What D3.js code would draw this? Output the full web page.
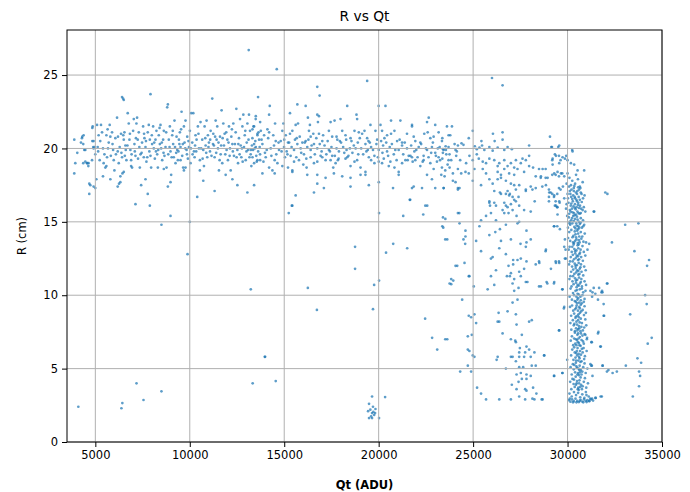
<!DOCTYPE html>
<html>
<head>
<meta charset="utf-8">
<title>R vs Qt</title>
<script src="https://d3js.org/d3.v7.min.js"></script>
<style>
  * { margin: 0; padding: 0; }
  body { background: #fff; width: 690px; height: 492px; overflow: hidden; font-family: "DejaVu Sans", sans-serif; }
  .tick text { font-family: "DejaVu Sans", sans-serif; font-size: 11.5px; fill: #000; }
  .tick line { stroke: #000; }
</style>
</head>
<body>
<div id="chart"></div>
<script>
// tick values
const xTicks = [5000, 10000, 15000, 20000, 25000, 30000, 35000];
const yTicks = [0, 5, 10, 15, 20, 25];

// [Qt (ADU), R (cm)], grouped by area
const leftEdgePoints = [
  [3885,20.6],[4045,19.7],[3940,19.0],[3885,18.3],[4310,20.8],[4360,20.3],[4470,19.9],[4360,19.0],[4575,19.0],
  [4680,17.6],[4680,16.9],[4840,21.4],[4840,20.5],[4890,20.1],[5000,19.6],[4630,18.8],[5000,17.3],
  [4240,20.4],[4290,20.7],[4380,20.9],[4415,19.9],[4470,19.1],[4560,19.0],[4645,19.0],[4735,17.5],
  [4825,19.2],[4910,20.0],[4965,20.1],[4860,21.5],[4910,20.5]
];

const bandPointsA = [
  [5090,21.6],[5175,20.9],[5125,20.1],[5230,19.2],[5300,21.6],[5355,21.1],[5405,20.0],[5440,19.0],[5530,18.7],
  [5585,20.9],[5620,19.4],[5670,20.0],[5710,20.4],[5760,21.6],[4910,17.4],[5055,17.9],[5405,18.1],[5585,18.8],[5795,17.9],
  [5795,20.8],[5885,21.1],[5940,19.9],[5975,19.2],[6010,18.5],[6060,20.7],[6150,22.1],[6185,19.8],[6240,19.0],
  [6290,20.1],[6325,18.1],[6360,21.0],[6415,23.5],[6470,23.4],[6505,23.3],[6415,19.4],[6505,20.6],[6540,21.1],
  [6590,20.2],[6645,19.2],[6185,17.4],[6255,17.6],[6325,17.7],[6435,18.3],[6505,18.4],[6610,19.9],
  [6715,22.4],[6770,21.7],[6805,20.6],[6855,19.9],[6895,19.2],[6945,18.7],[7000,21.2],[7035,22.0],[7070,20.3],
  [7125,19.5],[7175,21.7],[7210,22.1],[7245,20.6],[7300,21.1],[7355,18.7],[7390,19.6],[7425,17.5],[7475,20.4],
  [7530,21.5],[7565,19.4],[7125,16.2],[6895,18.8],[7655,17.9],
  [7600,20.7],[7655,20.1],[7705,19.1],[7775,21.1],[7830,21.6],[7885,20.6],[7920,23.7],[7920,19.5],[7955,18.7],
  [8005,20.3],[8060,21.5],[8095,20.0],[8150,19.3],[8185,20.6],[8235,21.2],[8275,19.6],[8310,18.7],[8360,20.9],
  [8415,20.3],[7885,16.1],[7775,16.9],
  [8450,21.6],[8485,20.0],[8540,19.2],[8590,20.6],[8625,21.2],[8660,19.5],[8715,20.1],[8770,18.7],[8805,22.8],
  [8840,23.0],[8890,20.6],[8945,21.5],[8980,19.8],[9015,18.2],[9070,20.9],[9120,20.3],[9155,19.4],[9190,21.9],
  [9245,19.0],[9300,20.8],[8980,17.7],[8840,17.4],[8625,18.6],[9335,19.9],
  [9370,19.2],[9425,20.6],[9475,21.1],[9510,20.1],[9565,22.5],[9600,19.5],[9650,18.7],[9690,21.5],[9725,20.4],
  [9775,21.9],[9830,19.9],[9865,20.8],[9900,19.3],[9955,20.1],[10005,21.2],[10040,19.0],[10075,22.4],[10130,20.4],
  [10185,22.4],[10220,19.8],[9775,18.7],[9690,18.5],[9510,19.2],
  [10255,19.4],[10305,20.9],[10360,20.6],[10395,16.7],[10430,21.5],[10485,20.0],[10535,19.2],[10570,21.8],
  [10660,20.6],[10715,19.9],[10750,18.8],[10785,21.5],[10840,20.2],[10890,21.9],[10925,19.4],[10960,20.9],
  [11015,20.4],[11070,19.8],[11105,21.2],[10715,17.8],[10535,18.5],
  [11190,23.4],[11245,21.0],[11280,20.2],[11315,19.4],[11370,21.9],[11420,20.6],[11455,21.5],[11490,20.0],
  [11545,18.5],[11600,20.8],[11635,19.6],[11685,22.6],[11720,19.0],[11775,21.7],[11810,20.2],[11845,21.0],
  [11900,18.2],[11950,19.9],[11990,20.6],[11315,17.1],
  [12020,19.2],[12075,21.5],[12130,20.0],[12165,18.5],[12200,20.8],[12255,20.3],[12305,21.7],[12340,19.5],
  [12430,21.1],[12465,22.7],[12520,19.9],[12555,19.0],[12605,20.7],[12660,22.0],[12695,20.2],[12730,19.4],
  [12785,21.5],[12835,22.3],[12870,20.1],[12255,17.9],[12520,17.5],
  [12910,20.9],[12960,19.2],[13015,20.4],[13050,21.7],[13085,19.9],[13135,22.3],[13190,21.2],[13225,19.6],
  [13260,18.8],[13315,20.7],[13370,21.5],[13405,20.3],[13440,20.0],[13490,22.0],[13545,19.1],[13580,20.9],
  [13615,23.5],[13670,20.6],[13720,19.6],[13050,17.0],[13405,17.5],
  [5150,19.8],[5260,20.5],[5480,19.6],[5650,21.3],[5820,19.5],[5910,20.3],[6090,19.6],[6200,20.8],[6380,19.7],
  [6480,20.9],[6560,19.5],[6700,20.2],[6830,21.0],[6920,19.6],[7090,19.8],[7150,20.7],[7260,19.3],[7330,20.1],
  [7450,19.7],[7580,21.0],[7680,20.5],[7750,19.4],[7860,19.8],[7990,20.9],[8120,20.4],[8210,19.8],[8330,19.9],
  [8400,21.4],[8520,20.4],[8610,19.7],[8750,21.1],[8860,19.6],[8930,20.1],[9040,19.4],[9100,21.2],[9220,20.1],
  [9280,19.7],[9400,19.8],[9450,20.3],[9540,21.3],[9630,20.3],[9760,20.0],[9850,19.6],[9930,20.5],[10060,20.0],
  [10150,19.6],[10280,20.2],[10340,19.8],[10460,21.0],[10600,20.0],[10680,19.3],[10820,20.7],[10870,19.7],
  [10990,20.1],[11080,20.6],[11150,19.5],[11230,20.3],[11340,20.8],[11400,19.7],[11520,20.4],[11580,19.2],
  [11660,20.2],[11740,20.7],[11880,19.6],[11930,21.1],[12050,20.4],[12110,19.5],[12230,21.3],[12280,19.8],
  [12390,20.3],[12480,19.4],[12570,20.3],[12640,19.6],[12760,20.0],[12800,19.1],[12940,21.2],[13000,19.8],
  [13110,20.6],[13160,19.4],[13290,20.2],[13350,19.9],[13470,20.5],[13520,19.5],[13640,21.1],[13700,20.1]
];

const bandPointsB = [
  [14605,25.4],[19390,24.6],[16750,24.2],[16875,23.6],[14235,22.9],[15695,23.0],[16135,22.9],[18335,22.9],[20360,22.9],
  [13495,22.2],[14200,22.3],[13725,21.8],[14515,21.7],[14955,21.7],[15305,22.4],[15605,21.6],[15730,21.7],
  [16255,22.1],[16360,21.6],[16750,22.3],[16840,22.2],[16785,21.8],[17455,21.8],[17665,21.9],[17980,22.0],
  [18825,22.3],[18860,22.0],[19565,21.6],[20095,21.6],[20655,21.9],[21150,21.9],[21765,21.6],[22560,21.8],
  [22650,22.1],[22995,21.6],
  [13320,21.3],[13405,21.5],[13580,21.0],[13760,21.2],[13935,20.9],[14110,21.3],[14200,21.1],[14550,20.5],
  [14815,20.5],[14900,21.2],[15080,20.9],[15200,20.4],[15305,21.0],[15430,21.2],[15660,20.7],[15960,20.4],
  [16135,20.5],[16310,21.2],[16400,20.8],[16540,21.0],[16840,21.0],[17015,20.5],[17365,21.2],[17540,20.8],
  [17770,20.8],[17945,20.5],[18070,21.2],[18245,20.9],[18510,20.7],[18720,21.2],[18950,21.1],[19125,21.0],
  [19250,21.2],[19390,20.7],[19530,20.4],[19830,21.2],[19920,20.6],[20180,21.2],[20305,20.7],[20445,20.9],
  [20655,21.0],[20835,21.2],[20975,20.5],[21240,20.4],[21500,21.0],[21765,21.5],[21855,20.8],[21940,20.5],
  [22205,20.4],[22415,21.0],[22595,21.1],[22735,20.7],[22910,20.8],[23175,21.1],[23350,20.5],[23615,21.5],[23790,20.9],
  [13230,19.9],[13495,20.1],[13620,19.8],[13845,20.3],[14075,19.9],[14285,20.0],[14460,20.2],[14725,19.9],
  [14990,20.1],[15130,19.8],[15340,19.5],[15520,19.9],[15695,20.3],[15870,20.0],[16045,19.6],[16220,20.1],
  [16400,19.9],[16575,20.3],[16750,20.0],[16925,19.5],[17135,20.2],[17365,19.9],[17540,19.5],[17770,20.0],
  [17895,19.8],[18120,20.1],[18300,19.9],[18475,20.0],[18685,20.2],[18895,20.4],[19075,20.0],[19300,20.3],
  [19425,19.9],[19600,20.1],[19775,19.5],[20005,19.9],[20235,20.2],[20445,19.8],[20585,20.1],[20800,19.6],
  [21060,19.9],[21240,20.2],[21500,20.0],[21680,19.5],[21890,19.8],[22120,20.1],[22380,19.5],[22560,19.9],
  [22820,20.1],[22995,19.7],[23175,19.4],[23440,19.9],[23700,20.1],
  [13320,19.4],[13405,19.0],[13580,19.2],[13725,19.2],[13900,19.1],[14020,19.4],[14200,18.7],[14375,18.5],
  [14495,19.2],[14640,19.0],[14900,18.8],[15040,19.4],[15200,18.7],[15430,18.5],[15520,19.1],[15780,19.2],
  [16010,18.9],[16185,18.7],[16400,19.4],[16575,19.0],[16750,19.1],[17015,19.4],[17190,19.2],[17455,19.2],
  [17595,18.7],[17720,19.0],[17840,19.2],[18245,19.3],[18335,19.4],[18510,18.8],[18720,19.1],[18860,19.2],
  [19040,18.7],[19300,18.4],[19480,19.4],[19600,19.2],[19775,19.0],[20005,19.1],[20180,19.0],[20270,19.3],
  [20535,18.8],[20620,19.1],[20835,18.7],[21060,18.4],[21240,19.0],[21415,19.2],[21535,19.2],[21765,19.4],
  [21940,19.2],[22205,18.8],[22380,19.2],[22560,18.2],[22735,19.0],[22910,18.6],[23085,19.1],[23350,18.7],
  [23525,18.5],[23700,19.2],
  [13845,18.3],[14495,18.3],[15430,18.4],[16220,18.2],[16750,18.2],[17190,18.0],[17630,18.3],[18070,18.1],
  [18510,18.0],[19040,18.2],[19300,18.2],[20005,17.7],[19480,17.5],[18510,17.4],[17100,17.3],[16750,17.6],
  [16575,17.0],[15605,16.8],[15430,16.1],[20760,17.3],[21765,17.3],[21855,17.4],[22295,17.3],[21645,16.5],
  [22470,16.1],[22995,17.3],[23440,17.3],[22820,17.9],[21060,18.2],
  [13800,20.6],[13980,19.7],[14150,20.7],[14320,19.5],[14420,20.9],[14580,19.6],[14700,20.4],[14860,19.8],
  [15000,20.6],[15170,19.6],[15260,20.4],[15390,20.1],[15570,20.6],[15640,19.4],[15820,20.8],[15900,19.7],
  [16090,20.4],[16170,19.3],[16280,20.6],[16450,20.2],[16620,19.6],[16700,20.7],[16880,20.3],[16980,19.8],
  [17060,20.9],[17230,19.6],[17300,20.5],[17420,19.8],[17500,20.1],[17680,19.5],[17810,20.6],[17880,19.3],
  [18010,20.4],[18180,19.7],[18280,20.6],[18400,19.5],[18560,20.5],[18610,19.7],[18780,20.0],[18920,19.6],
  [19000,20.7],[19180,19.6],[19350,19.8],[19460,20.5],[19700,19.9],[19880,20.3],[19960,19.4],[20130,20.5],
  [20200,19.7],[20400,20.4],[20500,19.5],[20700,20.3],[20880,19.9],[20950,19.2],[21110,20.6],[21300,19.6],
  [21380,20.4],[21590,19.5],[21720,20.2],[21800,19.1],[21990,19.9],[22060,19.4],[22250,20.3],[22330,19.1],
  [22500,20.0],[22640,19.4],[22780,19.7],[22870,20.4],[23030,19.5],[23130,20.0],[23250,19.2],[23400,19.7],
  [23560,19.9],[23650,18.9],[23750,19.6]
];

const transitionPoints = [
  [26000,24.8],[26560,24.3],
  [23880,21.5],[23700,20.9],[23370,20.7],[24980,21.2],[24770,20.7],[26050,21.0],[26560,21.1],[25440,20.5],
  [26560,20.6],[26140,20.5],[29070,20.8],[27965,20.2],[29140,20.1],[29510,20.1],[30245,19.9],
  [23230,20.1],[23405,19.95],[23545,20.15],[24020,20.3],[24195,20.2],[24385,20.35],[24490,20.25],[24070,19.9],
  [24140,19.8],[25090,20.15],[25195,19.95],[25335,20.05],[25475,20.2],[25595,19.9],[25860,20.1],[26035,19.85],
  [26300,20.05],[26650,19.9],[26825,20.1],[27050,19.95],
  [23370,19.3],[23580,19.6],[23840,19.2],[24105,19.5],[24315,19.2],[24630,19.0],[24805,19.5],[24980,19.2],
  [25195,19.6],[25300,19.3],[25510,19.1],[25685,19.0],[25860,19.3],[26120,19.2],[26300,18.8],[26385,19.0],
  [26650,19.2],[26825,18.8],[27000,19.0],[27175,18.7],[27265,19.2],[27525,19.0],[27615,19.3],[27790,19.2],
  [27965,19.5],[28175,18.7],[28490,18.6],[28840,18.6],[29190,19.2],[29330,19.6],[29545,19.5],[29630,19.2],
  [29860,19.3],[29930,19.5],[29190,18.2],[29370,18.2],[29545,18.1],[29720,18.3],
  [23755,18.7],[23930,18.3],[24195,18.6],[24370,18.3],[24595,18.4],[24770,18.3],[25070,18.6],[25510,18.6],
  [25685,18.3],[26300,18.4],[26475,18.2],[26650,18.6],[26910,18.3],[27175,18.2],[27350,18.6],[27700,18.4],
  [27965,18.8],[28315,18.1],[28580,18.0],[28840,18.0],[23315,18.2],[23490,18.1],[23930,17.8],[24070,17.7],
  [24195,17.3],[24280,17.3],[23440,17.3],[24980,17.8],[25420,17.5],[25860,17.9],[26035,17.6],[26300,17.9],
  [26475,18.0],[26735,17.8],[27000,17.6],[27175,17.5],[27440,17.5],[27790,17.2],[28050,17.4],[28315,17.3],
  [28665,17.4],[29015,17.2],[29105,17.0],[29280,16.7],[29370,16.4],[29455,16.0],[29545,17.3],[29630,17.2],
  [29755,17.4],[26420,17.0],[26825,17.1],[27090,16.7],[27405,16.7],[25860,16.3],[26210,16.1],[26735,16.1],
  [27265,16.4],[32000,17.0],
  [24195,17.2],[26120,17.1],[26475,16.9],[26735,16.9],[26945,16.9],[27265,17.2],[27790,17.1],[28140,17.2],
  [29015,16.7],[29190,16.9],[29455,16.9],[25860,16.4],[25895,16.1],[26120,16.3],[26650,16.3],[26825,16.0],
  [27000,16.2],[27175,16.5],[26910,16.8],[27440,16.1],[26560,15.8],[26650,15.6],[26875,15.6],[27090,15.8],
  [27300,15.4],[27700,15.8],[28050,15.7],[28260,16.4],[29015,16.4],[29330,16.1],[29455,16.0],[29580,16.3],
  [25945,15.6],[25685,15.4],[23405,15.3],[24195,15.6],[31385,15.7],[26210,15.1],[25420,15.1],
  [23370,14.7],[24280,14.9],[24595,14.4],[24595,14.0],[24490,13.8],[24580,13.5],[23525,13.8],[25160,13.7],
  [25335,14.7],[25860,14.1],[26175,14.3],[26420,14.5],[26475,13.7],[26735,14.8],[27000,13.8],[27350,14.9],
  [27440,15.0],[27825,14.4],[27510,13.5],[27825,13.6],[28050,13.8],[27790,13.3],[28840,13.0],[29455,14.7],
  [29280,14.7],[29860,13.8],[29895,13.1],[30105,14.9],[25420,13.0],[26385,13.2],[24070,12.0],[24545,12.2],
  [24805,11.3],[24770,11.3],[23840,11.1],[23755,10.8],[25945,12.5],[26035,12.6],[26735,12.8],[26875,12.0],
  [27120,12.4],[27120,12.1],[27350,12.4],[27525,12.5],[27825,12.3],[28490,12.3],[28315,12.1],[29370,12.3],
  [29545,12.3],[29860,12.5],[26210,11.7],[25945,11.3],[27000,11.5],[27440,11.6],[26945,11.3],[26790,11.3],
  [27175,11.1],[27525,11.3],[27700,11.8],[27875,10.9],[27790,10.9],[27090,10.8],[26120,10.7],[25770,10.4],
  [27405,10.5],[27175,10.3],[28490,10.6],[28930,10.8],[29280,10.8],[29720,10.4],[25035,10.6],[32350,13.6],
  [33050,14.8],[33750,14.9],[33540,13.0],[34315,12.4],[34210,12.0],[30980,13.6],[31385,10.5],[31470,10.1],
  [31790,10.2],[32085,10.8],[31825,10.3],[31210,10.3],
  [24420,9.7],[27090,9.5],[27350,9.7],[29805,9.1],[26825,8.9],[27265,8.7],[26350,8.8],[24770,8.6],[24895,8.5],
  [25070,8.7],[25160,8.1],[26300,8.2],[26385,8.2],[27300,8.0],[27965,8.2],[28105,8.3],[31910,9.4],[34105,10.0],
  [34190,9.4],[33315,8.7],[31910,8.6],[31300,9.9],[31610,9.7],
  [23525,7.0],[24720,7.2],[24930,7.3],[26560,7.4],[27580,7.3],[27000,7.0],[27265,6.8],[27230,6.9],[27475,6.4],
  [27440,6.1],[27825,6.5],[27965,6.3],[28245,6.1],[27755,6.1],[27000,5.8],[27090,5.8],[27440,5.8],[27265,5.5],
  [27700,5.8],[28050,5.8],[28105,5.2],[28315,5.2],[28755,5.9],[26245,5.6],[26300,5.8],[27440,5.1],[27650,5.1],
  [24720,6.3],[24805,6.2],[24980,5.9],[25070,5.8],[24720,5.2],[24315,4.8],[24895,4.8],[26735,5.0],[27300,4.6],
  [27525,4.7],[27825,4.6],[28050,4.5],[27825,4.3],[27580,4.3],[29280,4.5],[29720,4.7],[29545,7.6],[29980,5.6],
  [27050,3.9],[27405,4.1],[27300,3.6],[27755,3.6],[27825,3.5],[28175,3.7],[28350,3.3],[27440,3.1],[27755,2.9],
  [28245,2.9],[28140,2.95],[28630,2.9],[27000,2.9],[26385,2.9],[25685,2.9],[25420,3.3],[25210,3.7],
  [31610,7.4],[31735,6.5],[31260,6.8],[31260,5.2],[31860,5.2],[32085,4.8],[32385,4.7],[32610,4.8],[33085,5.2],
  [33700,5.7],[33895,5.4],[33785,4.8],[33840,4.5],[33785,3.8],[33455,3.1],[31750,3.1],[31470,3.0],[34455,7.1],
  [34245,6.7],[30945,7.3],[31035,7.1],[31210,5.3],[31300,2.95]
];

const curvePoints = [
  [29175,20.1],[29560,20.2],[30265,19.8],[29385,19.5],[29735,19.4],[29210,19.3],[30000,19.2],[29210,18.9],
  [29560,19.0],[30175,19.0],[30350,18.9],[30530,18.5],[30880,18.5],[28680,18.6],[28590,18.1],[28945,18.0],
  [29295,18.3],[29470,18.4],[29650,18.3],[29825,18.1],[30000,18.3],[28855,17.5],[29030,17.0],[29295,16.8],
  [29385,16.1],[29560,16.4],[29825,16.6],[29470,15.5],[29295,14.7],[29595,14.5],[29825,13.3],[28855,13.1],
  [29385,12.2],[29560,12.2],[29910,12.5],[28505,12.2],[29120,11.8],[32110,16.9],[31410,15.7],[31145,13.5],[31055,13.1],
  [30100,18.0],[30250,17.8],[30400,17.6],[30550,17.9],[30180,17.5],[30650,17.4],[30330,17.3],[29950,17.6],
  [30800,17.7],[30450,18.2],[29950,16.2],[29980,15.4],[30000,16.9],[29920,15.9],
  [28590,10.6],[28890,10.9],[29295,10.9],[29735,10.4],[29825,9.2],[29560,7.6],[28770,5.9],[29295,4.5],
  [29735,4.7],[28680,2.9],[31320,10.2],[31670,10.5],[31850,10.2],[32110,10.8],[31935,8.6],[31635,7.5],
  [31760,6.5],[31285,6.8],[31285,5.2],[31850,5.2],[32165,4.9],[31320,4.5],[31495,3.0],[31815,3.1],[31145,2.8],[30970,3.4]
];

const columnPoints = [
  [30080,17.4],[30210,17.2],[30360,17.45],[30520,17.1],[30680,17.3],[30150,16.9],[30300,16.8],[30440,17.0],
  [30590,16.7],[30740,16.9],[30020,16.6],[30250,16.55],[30400,16.6],[30500,16.9],[30650,16.5],[30820,16.6],
  [30120,17.1],[30560,17.35],[30380,16.7],[30700,17.0],[30900,16.8],[30470,16.5],[30190,16.7],[30330,17.1],[30610,17.2],
  [30050,16.3],[30170,16.1],[30280,16.4],[30390,16.2],[30480,16.0],[30570,16.3],[30660,16.1],[30750,16.35],
  [30860,16.0],[30120,15.8],[30230,15.9],[30340,15.6],[30430,15.85],[30520,15.7],[30610,15.95],[30700,15.6],
  [30800,15.8],[30090,15.55],[30260,15.65],[30450,15.5],[30550,16.15],[30380,15.95],[30640,15.55],[30200,16.25],
  [30720,15.9],[30940,15.7],[30310,16.05],[30500,16.4],[30160,15.7],[30580,15.6],
  [30070,15.3],[30190,15.1],[30300,15.4],[30400,15.2],[30500,15.35],[30600,15.0],[30700,15.25],[30820,15.1],
  [30140,14.8],[30250,14.9],[30360,14.65],[30460,14.9],[30560,14.7],[30650,14.85],[30760,14.6],[30880,14.8],
  [30020,14.6],[30330,15.05],[30420,14.55],[30530,15.15],[30620,14.6],[30240,15.25],[30700,14.95],[30480,14.75],
  [30110,15.0],[30380,15.45],[30560,14.5],[30830,14.7],
  [30090,14.3],[30200,14.45],[30310,14.05],[30380,14.35],[30470,13.8],[30560,14.2],[30640,13.6],[30780,14.0],
  [30140,13.7],[30260,13.95],[30340,13.55],[30420,14.15],[30510,14.4],[30600,13.75],[30700,14.3],[30840,13.65],
  [30030,13.9],[30290,13.6],[30450,13.95],[30540,13.55],[30620,14.0],[30730,13.85],[30400,13.7],[30910,14.2],
  [30110,13.3],[30220,12.95],[30320,13.45],[30400,13.0],[30490,12.7],[30570,13.2],[30660,12.9],[30790,13.35],
  [30170,12.6],[30280,12.75],[30360,13.15],[30440,12.55],[30530,13.4],[30620,12.8],[30720,12.6],[30860,12.95],
  [30060,13.1],[30250,13.3],[30470,13.05],[30550,12.65],[30690,13.1],[30410,12.85],[30590,13.45],[30940,12.7],
  [30130,12.3],[30240,11.95],[30340,12.45],[30420,12.0],[30510,11.7],[30590,12.2],[30680,11.9],[30810,12.35],
  [30190,11.6],[30300,11.75],[30380,12.15],[30460,11.55],[30550,12.4],[30640,11.8],[30740,11.6],[30880,11.95],
  [30080,12.1],[30270,12.3],[30490,12.05],[30570,11.65],[30710,12.1],[30430,11.85],[30610,12.45],[30960,11.7],
  [30150,11.3],[30260,10.95],[30360,11.45],[30440,11.0],[30530,10.7],[30610,11.2],[30700,10.9],[30830,11.35],
  [30210,10.6],[30320,10.75],[30400,11.15],[30480,10.55],[30570,11.4],[30660,10.8],[30760,10.6],[30900,10.95],
  [30100,11.1],[30290,11.3],[30510,11.05],[30590,10.65],[30730,11.1],[30450,10.85],[30630,11.45],[30980,10.7],
  [30160,10.45],[30290,10.15],[30420,10.3],[30470,9.9],[30600,10.05],[30650,10.4],[30830,10.2],[30900,9.75],
  [30230,9.7],[30380,9.6],[30500,10.35],[30560,9.8],[30700,9.65],[30790,10.0],[30950,10.3],[30110,9.9],
  [30440,9.55],[30530,10.1],[30620,9.5],[30760,10.45],[30340,10.0],[30680,9.9],[30520,9.7],[30860,9.55],
  [30240,9.3],[30300,8.95],[30460,9.15],[30510,9.45],[30580,8.7],[30700,9.35],[30800,9.0],[30970,8.8],
  [30190,8.6],[30400,9.05],[30440,8.55],[30620,9.2],[30660,8.8],[30750,9.45],[30870,8.65],[30130,9.2],
  [30350,8.75],[30550,8.95],[30600,8.5],[30720,8.9],[30480,9.3],[30900,9.25],[30530,8.6],[30650,9.1],
  [30280,8.3],[30330,7.95],[30420,8.45],[30500,8.0],[30570,7.7],[30640,8.15],[30700,8.4],[30880,7.8],
  [30200,7.65],[30390,7.55],[30470,8.2],[30600,7.9],[30680,7.55],[30760,8.1],[30940,8.35],[30150,8.1],
  [30520,7.6],[30560,8.3],[30620,7.75],[30810,7.6],[30360,8.05],[30730,7.85],[30450,7.75],[30990,7.95],
  [30230,7.2],[30390,7.45],[30440,7.0],[30520,7.3],[30600,6.75],[30650,7.15],[30740,6.95],[30900,7.35],
  [30300,6.6],[30410,6.7],[30500,6.95],[30560,7.4],[30690,6.55],[30790,7.25],[30860,6.7],[30170,6.9],
  [30470,6.6],[30580,7.05],[30630,6.6],[30710,7.4],[30350,7.05],[30820,6.85],[30540,6.8],[31020,7.0],
  [30250,6.3],[30350,6.45],[30460,6.05],[30530,6.4],[30610,5.8],[30660,6.2],[30760,6.35],[30920,5.85],
  [30310,5.6],[30420,5.75],[30490,6.2],[30570,5.55],[30710,5.95],[30800,6.1],[30880,5.65],[30190,5.9],
  [30450,5.55],[30590,6.0],[30640,5.7],[30740,5.5],[30380,6.1],[30850,6.4],[30510,5.9],[31010,6.2],
  [30280,5.3],[30330,4.95],[30440,5.4],[30500,5.05],[30560,4.7],[30640,5.2],[30700,4.9],[30900,5.35],
  [30220,4.6],[30400,4.75],[30470,5.15],[30600,4.55],[30680,5.45],[30780,4.8],[30960,4.7],[30160,5.1],
  [30520,4.6],[30580,5.0],[30660,4.75],[30830,5.1],[30360,5.25],[30740,4.6],[30620,4.9],[31050,5.0],
  [30260,4.3],[30320,3.95],[30430,4.45],[30480,4.0],[30570,3.7],[30630,4.2],[30720,3.9],[30920,4.35],
  [30200,3.6],[30380,3.75],[30500,4.15],[30590,3.55],[30690,4.4],[30800,3.8],[30990,3.7],[30140,4.1],
  [30540,3.6],[30610,4.0],[30670,3.75],[30860,4.1],[30340,4.25],[30760,3.6],[30450,3.9],[31080,4.0],
  [30100,3.3],[30220,3.1],[30340,3.4],[30450,3.2],[30560,3.35],[30670,3.05],[30780,3.25],[30890,3.0],
  [31000,3.2],[31120,3.1],[30060,2.85],[30150,2.75],[30240,2.9],[30330,2.78],[30420,2.95],[30510,2.8],
  [30600,2.72],[30690,2.88],[30780,2.76],[30870,2.9],[30960,2.8],[31050,2.85],[31150,2.78],[31250,2.9],
  [31350,2.82],[30120,2.95],[30290,2.7],[30470,2.7],[30650,2.8],[30830,2.7],[31010,2.72],[31200,2.95]
];

const outlierPoints = [
  [4100,2.4],[6380,2.3],[6430,2.65],[7180,4.0],[7550,2.86],[8500,3.45],[8980,15.4],[8500,14.8],[10000,15.0],
  [9880,12.8],[13230,10.4],[13970,5.8],[13990,5.8],[13330,4.0],[14550,4.15],[15240,15.6],[15400,16.1],
  [16250,10.5],[16730,9.0],[18750,13.3],[18750,11.8],[19760,10.7],[19700,9.05],[20020,11.0],[20020,15.6],
  [20390,12.9],[20770,13.5],[21510,13.2],[21300,15.4],[22360,15.5],[22570,16.1],[21670,16.5],[23530,15.2],
  [23420,14.6],[23630,13.8],[24270,15.6],[24160,12.0],[23950,11.0],[23840,10.75],[22460,8.4],[22830,7.1],
  [23630,7.0],[23100,6.3],
  [19650,3.1],[20340,3.06],[19490,2.6],[19700,2.4],[19830,2.25],[19440,2.1],[19560,2.2],[19650,1.97],
  [19810,1.97],[19760,1.84],[19490,1.63],[19650,1.63],[20020,1.63],[19600,1.75],[19720,2.05],
  [13120,26.7],[20000,22.9]
];

const allPoints = [].concat(leftEdgePoints, bandPointsA, bandPointsB, transitionPoints, curvePoints, columnPoints, outlierPoints);

const width = 690, height = 492;
const margin = {top: 30, right: 28, bottom: 50, left: 67};

const svg = d3.select("#chart").append("svg")
  .attr("width", width)
  .attr("height", height)
  .style("display", "block");

const x = d3.scaleLinear().domain([3500, 35000]).range([margin.left, width - margin.right]);
const y = d3.scaleLinear().domain([0, 28.07]).range([height - margin.bottom, margin.top]);

svg.append("clipPath").attr("id", "plot-clip")
  .append("rect")
  .attr("x", margin.left).attr("y", margin.top)
  .attr("width", width - margin.left - margin.right)
  .attr("height", height - margin.top - margin.bottom);

// points
svg.append("g")
  .attr("clip-path", "url(#plot-clip)")
  .selectAll("circle")
  .data(allPoints)
  .join("circle")
  .attr("cx", d => x(d[0]))
  .attr("cy", d => y(d[1]))
  .attr("r", 1.35)
  .attr("fill", "#1f77b4")
  .attr("fill-opacity", 0.72);

// grid (drawn over the points, as matplotlib does)
const grid = svg.append("g").attr("stroke", "#b0b0b0").attr("stroke-width", 1);
grid.selectAll(".gx").data(xTicks).join("line")
  .attr("x1", d => x(d)).attr("x2", d => x(d))
  .attr("y1", margin.top).attr("y2", height - margin.bottom);
grid.selectAll(".gy").data(yTicks).join("line")
  .attr("x1", margin.left).attr("x2", width - margin.right)
  .attr("y1", d => y(d)).attr("y2", d => y(d));

// axes
const xAxis = d3.axisBottom(x).tickValues(xTicks).tickFormat(d3.format("d")).tickSize(5).tickSizeOuter(0).tickPadding(4);
const yAxis = d3.axisLeft(y).tickValues(yTicks).tickFormat(d3.format("d")).tickSize(5).tickSizeOuter(0).tickPadding(4);

svg.append("g")
  .attr("transform", `translate(0,${height - margin.bottom})`)
  .call(xAxis)
  .call(g => g.select(".domain").remove());

svg.append("g")
  .attr("transform", `translate(${margin.left},0)`)
  .call(yAxis)
  .call(g => g.select(".domain").remove());

// frame
svg.append("rect")
  .attr("x", margin.left).attr("y", margin.top)
  .attr("width", width - margin.left - margin.right)
  .attr("height", height - margin.top - margin.bottom)
  .attr("fill", "none")
  .attr("stroke", "#000")
  .attr("stroke-width", 1);

// title & labels
svg.append("text")
  .attr("x", (margin.left + width - margin.right) / 2)
  .attr("y", 21)
  .attr("text-anchor", "middle")
  .style("font-family", "DejaVu Sans")
  .style("font-size", "13.8px")
  .text("R vs Qt");

svg.append("text")
  .attr("x", (margin.left + width - margin.right) / 2)
  .attr("y", 489)
  .attr("text-anchor", "middle")
  .style("font-family", "DejaVu Sans")
  .style("font-size", "11.5px")
  .style("font-weight", "bold")
  .text("Qt (ADU)");

svg.append("text")
  .attr("transform", `translate(26,${(margin.top + height - margin.bottom) / 2}) rotate(-90)`)
  .attr("text-anchor", "middle")
  .style("font-family", "DejaVu Sans")
  .style("font-size", "11.5px")
  .text("R (cm)");
</script>
</body>
</html>
